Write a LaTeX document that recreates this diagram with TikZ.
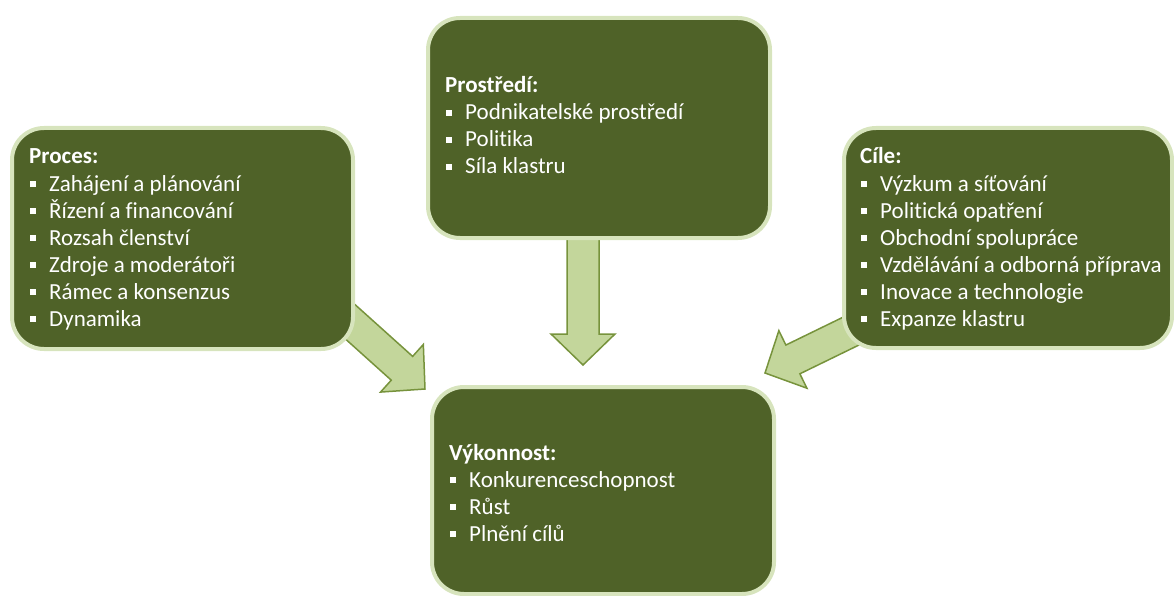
\documentclass[tikz,border=0pt]{standalone}
\usepackage{fontspec}
\setmainfont[Ligatures=NoCommon]{Carlito}
\usetikzlibrary{calc}

\definecolor{boxfill}{HTML}{4F6228}
\definecolor{boxrim}{HTML}{D7E4BD}
\definecolor{arrowfill}{HTML}{C3D69B}
\definecolor{arrowline}{HTML}{77933C}

\tikzset{
  panel/.style={draw=boxrim, line width=4pt, fill=boxfill, rounded corners=32pt,
    anchor=north west, inner sep=0pt},
  heading/.style={anchor=base west, inner sep=0pt, text=white,
    font=\fontsize{23}{27}\selectfont\bfseries},
  entry/.style={anchor=base west, inner sep=0pt, text=white,
    font=\fontsize{23}{27}\selectfont},
  bulletsq/.style={fill=white, draw=none, inner sep=0pt, minimum size=6pt},
  blockarrow/.style={fill=arrowfill, draw=arrowline, line width=1.5pt, line join=miter},
}

% Wide block arrow from a tail point #1 to a tip point #2; #3 names the head base
\newcommand{\fatarrow}[3]{%
  \coordinate (#3) at ($(#2)!31pt!(#1)$);
  \draw[blockarrow] (#2)
    -- ($(#3)!32pt!90:(#1)$)
    -- ($(#3)!16pt!90:(#1)$)
    -- ($(#1)!16pt!-90:(#2)$)
    -- ($(#1)!16pt!90:(#2)$)
    -- ($(#3)!16pt!-90:(#1)$)
    -- ($(#3)!32pt!-90:(#1)$)
    -- cycle;
}

% Bold heading followed by square-bulleted lines, 27pt apart
\newcommand{\panellist}[5]{%
  \node[heading] (#1-title) at (#2,#3) {#4};
  \foreach \txt [count=\i] in {#5} {
    \node[bulletsq] (#1-b\i) at ({#2+3.5},{#3+27*\i-7}) {};
    \node[entry] (#1-i\i) at ({#2+20},{#3+27*\i}) {\txt};
  }
}

\begin{document}
\begin{tikzpicture}[x=1pt, y=-1pt]
  \useasboundingbox (0,0) rectangle (1174,596);

  % arrow ends: tails sit under the source panels
  \coordinate (procTail) at (336,309);
  \coordinate (procTip)  at (425,389);
  \coordinate (envTail)  at (583,232);
  \coordinate (envTip)   at (583,365);
  \coordinate (goalTail) at (882,316);
  \coordinate (goalTip)  at (765,373);

  \fatarrow{procTail}{procTip}{procHead}
  \fatarrow{envTail}{envTip}{envHead}
  \fatarrow{goalTail}{goalTip}{goalHead}

  % panels
  \node[panel, minimum width=341pt, minimum height=221pt] (proces)    at (10,126)  {};
  \node[panel, minimum width=342pt, minimum height=220pt] (prostredi) at (426,16)  {};
  \node[panel, minimum width=328pt, minimum height=220pt] (cile)      at (842,126) {};
  \node[panel, minimum width=342pt, minimum height=207pt] (vykon)     at (430,385) {};

  % panel texts
  \panellist{pr}{29}{164}{Proces:}{Zahájení a plánování, Řízení a financování,
    Rozsah členství, Zdroje a moderátoři, Rámec a konsenzus, Dynamika}
  \panellist{ps}{445}{93}{Prostředí:}{Podnikatelské prostředí, Politika, Síla klastru}
  \panellist{ci}{860}{164}{Cíle:}{Výzkum a síťování, Politická opatření,
    Obchodní spolupráce, Vzdělávání a odborná příprava, Inovace a technologie,
    Expanze klastru}
  \panellist{vy}{449}{460}{Výkonnost:}{Konkurenceschopnost, Růst, Plnění cílů}
\end{tikzpicture}
\end{document}
